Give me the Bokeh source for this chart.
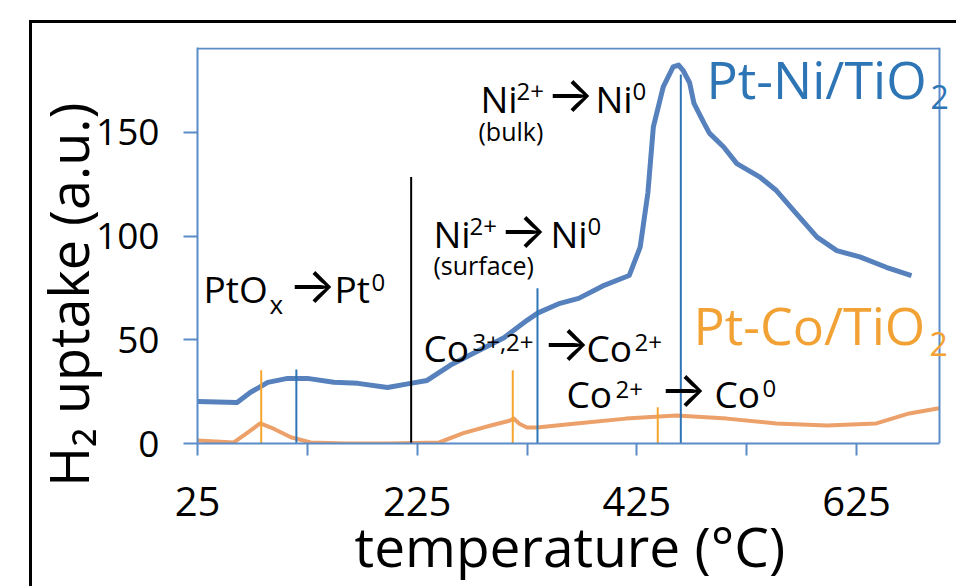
from bokeh.plotting import figure
from bokeh.models import Range1d, FixedTicker, Label, Span
from bokeh.embed import file_html
from bokeh.resources import INLINE

# ---------------- data ----------------
ni_temp = [25, 61, 73, 89, 107, 125, 149, 171, 198, 219, 234, 255, 278, 304, 325,
           335, 355, 372, 394, 418, 428, 435, 440, 449, 458, 463, 467, 473, 477,
           486, 491, 504, 516, 537, 552, 570, 589, 607, 628, 652, 675]
ni_val = [20.3, 19.8, 24.6, 29.5, 31.4, 31.4, 29.5, 29.0, 27.0, 29.0, 30.4, 37.7, 44.0,
          51.0, 59.4, 63.0, 67.6, 70.0, 76.0, 81.0, 94.7, 120.8, 152.7, 172.0, 181.6,
          182.5, 180.0, 174.0, 164.0, 154.6, 149.7, 143.0, 135.0, 128.5, 122.0, 111.0,
          99.5, 93.0, 90.0, 85.0, 81.0]

co_temp = [25, 58, 70, 82, 92, 110, 128, 160, 200, 245, 267, 292, 309, 313, 318, 325,
           334, 370, 415, 461, 507, 552, 598, 643, 673, 700]
co_val = [1.5, 0.5, 5.0, 9.7, 7.7, 3.0, 0.5, 0.0, 0.0, 0.5, 5.0, 8.7, 11.0, 12.0, 9.5,
          7.7, 7.7, 9.7, 12.0, 13.5, 12.0, 9.7, 8.7, 9.7, 14.5, 17.0]

co_mark_t = [83, 312, 444]
co_mark_h = [35.3, 35.3, 17.5]
ni_mark_t = [115, 334.5, 465]
ni_mark_h = [35.7, 74.9, 178.0]
sep_t = [219.5]
sep_h = [128.5]

x_ticks = [25, 225, 425, 625]
x_minor = [125, 325, 525]
y_ticks = [0, 50, 100, 150]

# extent of the (blue-framed) plot area in data units
X_MIN, X_MAX = 25, 700.5
Y_MIN, Y_MAX = 0, 190.5

FONT = "Open Sans"
ARROW_FONT = "Inter"
NI_LINE = "#5681bd"
CO_LINE = "#eca06a"
NI_TEXT = "#2e75b6"
CO_TEXT = "#f2a234"
FRAME = "#5b8cc8"
K = 0.37  # baseline correction, fraction of the font size
NBSP = "\u00a0"

# the canvas frame runs to the right edge of the picture so the labels can pass the
# blue plot box, as in the original; the blue box itself is drawn below
p = figure(width=956, height=586, output_backend="svg", toolbar_location=None,
           x_range=Range1d(X_MIN, 715.97), y_range=Range1d(Y_MIN, 190.98),
           min_border_left=197, min_border_right=0, min_border_top=47,
           min_border_bottom=143,
           styles={"box-shadow": "inset 29px 20px 0 0 white, inset 32px 23px 0 0 black"})
p.grid.visible = False
p.outline_line_color = None
p.background_fill_color = "white"
p.border_fill_alpha = 0

# blue plot box: top and right edges (left and bottom are the axis lines)
p.segment(x0=[X_MIN], y0=[Y_MAX], x1=[X_MAX], y1=[Y_MAX], line_color=FRAME, line_width=2)
p.add_layout(Span(location=X_MAX, dimension="height", line_color=FRAME, line_width=2))

# curves
p.line(ni_temp, ni_val, line_color=NI_LINE, line_width=5, line_join="round")
p.line(co_temp, co_val, line_color=CO_LINE, line_width=4, line_join="round")

# vertical markers
p.segment(x0=co_mark_t, y0=[0] * len(co_mark_t), x1=co_mark_t, y1=co_mark_h,
          line_color="#f5a52e", line_width=2)
p.segment(x0=ni_mark_t, y0=[0] * len(ni_mark_t), x1=ni_mark_t, y1=ni_mark_h,
          line_color=NI_TEXT, line_width=2)
p.segment(x0=sep_t, y0=[0], x1=sep_t, y1=sep_h, line_color="black", line_width=2)

# axes
xa = p.xaxis[0]
xa.ticker = FixedTicker(ticks=x_ticks, minor_ticks=x_minor)
xa.bounds = (X_MIN, X_MAX)
xa.axis_line_color = FRAME
xa.axis_line_width = 2
xa.major_tick_line_color = FRAME
xa.minor_tick_line_color = FRAME
xa.major_tick_line_width = 2
xa.minor_tick_line_width = 2
xa.major_tick_in = 0
xa.major_tick_out = 12
xa.minor_tick_in = 0
xa.minor_tick_out = 12
xa.major_label_text_font = FONT
xa.major_label_text_font_size = "40px"
xa.major_label_text_color = "black"
xa.major_label_standoff = 31
# a trailing no-break space centres the title under the blue box
xa.axis_label = "temperature (°C)" + NBSP
xa.axis_label_text_font = FONT
xa.axis_label_text_font_size = "55px"
xa.axis_label_text_font_style = "normal"
xa.axis_label_text_color = "black"
xa.axis_label_standoff = -11

ya = p.yaxis[0]
ya.ticker = FixedTicker(ticks=y_ticks, minor_ticks=[])
ya.axis_line_color = FRAME
ya.axis_line_width = 2
ya.major_tick_line_color = FRAME
ya.major_tick_line_width = 2
ya.major_tick_in = 0
ya.major_tick_out = 14
ya.minor_tick_out = 0
ya.major_label_text_font = FONT
ya.major_label_text_font_size = "37px"
ya.major_label_text_color = "black"
ya.major_label_standoff = 24
# trailing no-break spaces push the title down along the axis, as in the original
ya.axis_label = "H\u2082 uptake (a.u.)" + NBSP * 7
ya.axis_label_text_font = FONT
ya.axis_label_text_font_size = "54px"
ya.axis_label_text_font_style = "normal"
ya.axis_label_text_color = "black"
ya.axis_label_standoff = -12

ARR = "\u2192"


def compose(x, y, parts, color="black"):
    for text, dx, dy, size in parts:
        font = ARROW_FONT if text == ARR else FONT
        p.add_layout(Label(x=x, y=y, x_offset=dx, y_offset=dy + round(K * size),
                           text=text, text_font=font, text_font_size=f"{size}px",
                           text_color=color, text_baseline="alphabetic",
                           text_align="left"))


compose(30.5, 68.0, [("PtO", 0, 0, 37), ("x", 66, -11, 26), (ARR, 85, 0, 50),
                     ("Pt", 131, 0, 37), ("0", 168, 11, 24)])
compose(282.6, 159.7, [("Ni", 0, 0, 37), ("2+", 36, 12, 24), (ARR, 66, 0, 50),
                       ("Ni", 115, 0, 37), ("0", 152, 12, 24), ("(bulk)", -2, -28, 25)])
compose(239.8, 94.5, [("Ni", 0, 0, 37), ("2+", 36, 12, 24), (ARR, 66, 0, 50),
                      ("Ni", 117, 0, 37), ("0", 154, 12, 24), ("(surface)", 0, -26, 25)])
compose(230.7, 39.6, [("Co", 0, 0, 37), ("3+,2+", 49, 10, 24), (ARR, 119, 0, 50),
                      ("Co", 163, 0, 37), ("2+", 211, 10, 24)])
compose(360.9, 17.4, [("Co", 0, 0, 37), ("2+", 49, 9, 24), (ARR, 93, 0, 50),
                      ("Co", 148, 0, 37), ("0", 196, 10, 24)])
compose(488.4, 166.9, [("Pt-Ni/TiO", 0, 0, 52), ("2", 224, -12, 32)], color=NI_TEXT)
compose(476.5, 48.2, [("Pt-Co/TiO", 0, 0, 52), ("2", 236, -12, 32)], color=CO_TEXT)

open("out.html", "w").write(file_html(p, INLINE))
